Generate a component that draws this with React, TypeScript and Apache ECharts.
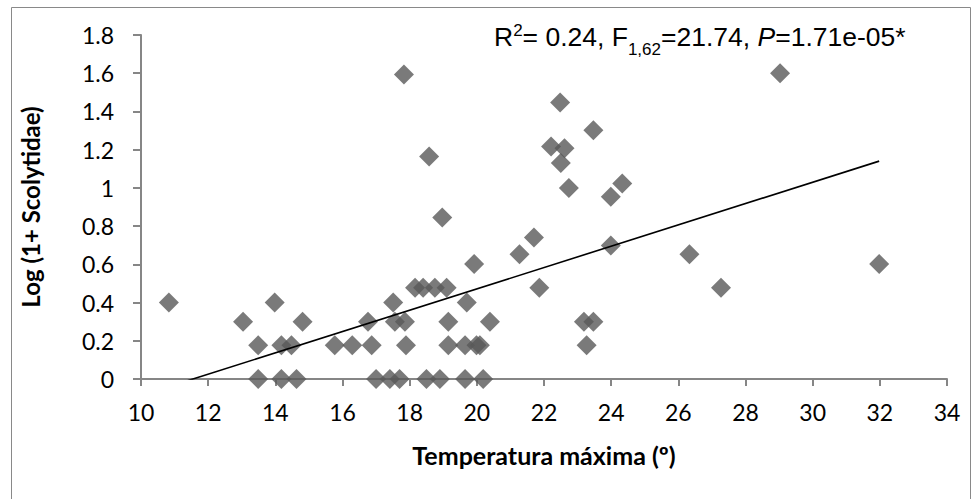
import React, { useEffect, useRef } from "react";
import * as echarts from "echarts";

const TEMP_MAX: number[] = [
  10.83, 13.04, 13.49, 13.49, 13.98, 14.18, 14.48, 14.18, 14.63, 14.81,
  15.77, 16.29, 16.76, 16.87, 17.0, 17.41, 17.51, 17.56, 17.7, 17.86,
  17.89, 17.83, 18.16, 18.4, 18.75, 19.1, 18.5, 18.9, 19.65, 20.19,
  19.15, 19.15, 19.65, 19.99, 20.09, 19.7, 20.39, 19.92, 21.27, 21.7,
  21.86, 23.19, 23.47, 23.27, 23.99, 23.99, 22.48, 23.47, 22.21, 22.61,
  22.5, 18.58, 22.74, 24.33, 18.97, 29.03, 26.33, 27.27, 31.98,
];
const LOG_SCOLYTIDAE: number[] = [
  0.4, 0.3, 0.176, 0, 0.4, 0.176, 0.176, 0, 0, 0.3,
  0.176, 0.176, 0.3, 0.176, 0, 0, 0.4, 0.3, 0, 0.3,
  0.176, 1.593, 0.477, 0.477, 0.477, 0.477, 0, 0, 0, 0,
  0.3, 0.176, 0.176, 0.176, 0.176, 0.4, 0.3, 0.602, 0.653, 0.74,
  0.477, 0.3, 0.3, 0.176, 0.699, 0.954, 1.447, 1.301, 1.217, 1.207,
  1.13, 1.164, 1.0, 1.023, 0.845, 1.6, 0.653, 0.477, 0.602,
];
const TREND_X: number[] = [10.83, 31.98];
const TREND_Y: number[] = [-0.04, 1.14];
const X_TICKS: number[] = [10, 12, 14, 16, 18, 20, 22, 24, 26, 28, 30, 32, 34];
const Y_TICKS: number[] = [0, 0.2, 0.4, 0.6, 0.8, 1, 1.2, 1.4, 1.6, 1.8];

const X_TITLE = "Temperatura máxima (º)";
const Y_TITLE = "Log (1+ Scolytidae)";

export default function App() {
  const ref = useRef<HTMLDivElement>(null);
  useEffect(() => {
    if (!ref.current) return;
    const chart = echarts.init(ref.current, null, { renderer: "svg" });
    const axisColor = "#868686";
    const labelFont = "Lato, 'Open Sans', sans-serif";
    const arial = "'Liberation Sans', Arial, sans-serif";
    chart.setOption({
      animation: false,
      backgroundColor: "#ffffff",
      grid: { left: 141, right: 30, top: 35, bottom: 120, containLabel: false },
      xAxis: {
        type: "value",
        min: X_TICKS[0],
        max: X_TICKS[X_TICKS.length - 1],
        interval: 2,
        name: X_TITLE,
        nameLocation: "middle",
        nameGap: 63,
        nameTextStyle: { fontFamily: labelFont, fontWeight: "bold", fontSize: 25, color: "#000" },
        axisLine: { show: true, onZero: false, lineStyle: { color: axisColor, width: 2 } },
        axisTick: { show: true, inside: false, length: 7, lineStyle: { color: axisColor, width: 2 } },
        axisLabel: { margin: 21, fontFamily: labelFont, fontSize: 23, color: "#000" },
        splitLine: { show: false },
      },
      yAxis: {
        type: "value",
        min: Y_TICKS[0],
        max: Y_TICKS[Y_TICKS.length - 1],
        interval: 0.2,
        name: Y_TITLE,
        nameLocation: "middle",
        nameGap: 99,
        nameRotate: 90,
        nameTextStyle: { fontFamily: labelFont, fontWeight: "bold", fontSize: 24, color: "#000" },
        axisLine: { show: true, onZero: false, lineStyle: { color: axisColor, width: 2 } },
        axisTick: { show: true, inside: false, length: 8, lineStyle: { color: axisColor, width: 2 } },
        axisLabel: {
          margin: 27,
          fontFamily: labelFont,
          fontSize: 23,
          color: "#000",
          formatter: (v: number) => (Math.round(v * 10) / 10).toString(),
        },
        splitLine: { show: false },
      },
      series: [
        {
          type: "scatter",
          symbol: "diamond",
          symbolSize: 20,
          itemStyle: { color: "#595959" },
          data: TEMP_MAX.map((x, i) => [x, LOG_SCOLYTIDAE[i]]),
          z: 3,
        },
        {
          type: "line",
          showSymbol: false,
          symbol: "none",
          clip: true,
          lineStyle: { color: "#000", width: 1.6 },
          data: TREND_X.map((x, i) => [x, TREND_Y[i]]),
          z: 4,
        },
      ],
      graphic: [
        {
          type: "rect",
          left: 9,
          top: 5,
          shape: { width: 959, height: 500 },
          style: { fill: "none", stroke: "#898989", lineWidth: 1 },
          silent: true,
        },
        {
          type: "text",
          left: 494,
          top: 22,
          style: {
            text: "{n|R}{sup|2}{n|= 0.24, F}{sub|1,62}{n|=21.74, }{i|P}{n|=1.71e-05*}",
            rich: {
              n: { fontFamily: arial, fontSize: 26.5, color: "#000", verticalAlign: "bottom", height: 30, lineHeight: 30 },
              i: { fontFamily: arial, fontSize: 26.5, fontStyle: "italic", color: "#000", verticalAlign: "bottom", height: 30, lineHeight: 30 },
              sup: { fontFamily: arial, fontSize: 17, color: "#000", verticalAlign: "top", lineHeight: 17 },
              sub: { fontFamily: arial, fontSize: 17, color: "#000", verticalAlign: "bottom", lineHeight: 17, padding: [0, 0, -6, 0] },
            },
          },
        },
      ],
    });
    return () => chart.dispose();
  }, []);
  return (
    <div
      ref={ref}
      style={{ position: "fixed", left: 0, top: 0, width: 977, height: 499 }}
    />
  );
}
